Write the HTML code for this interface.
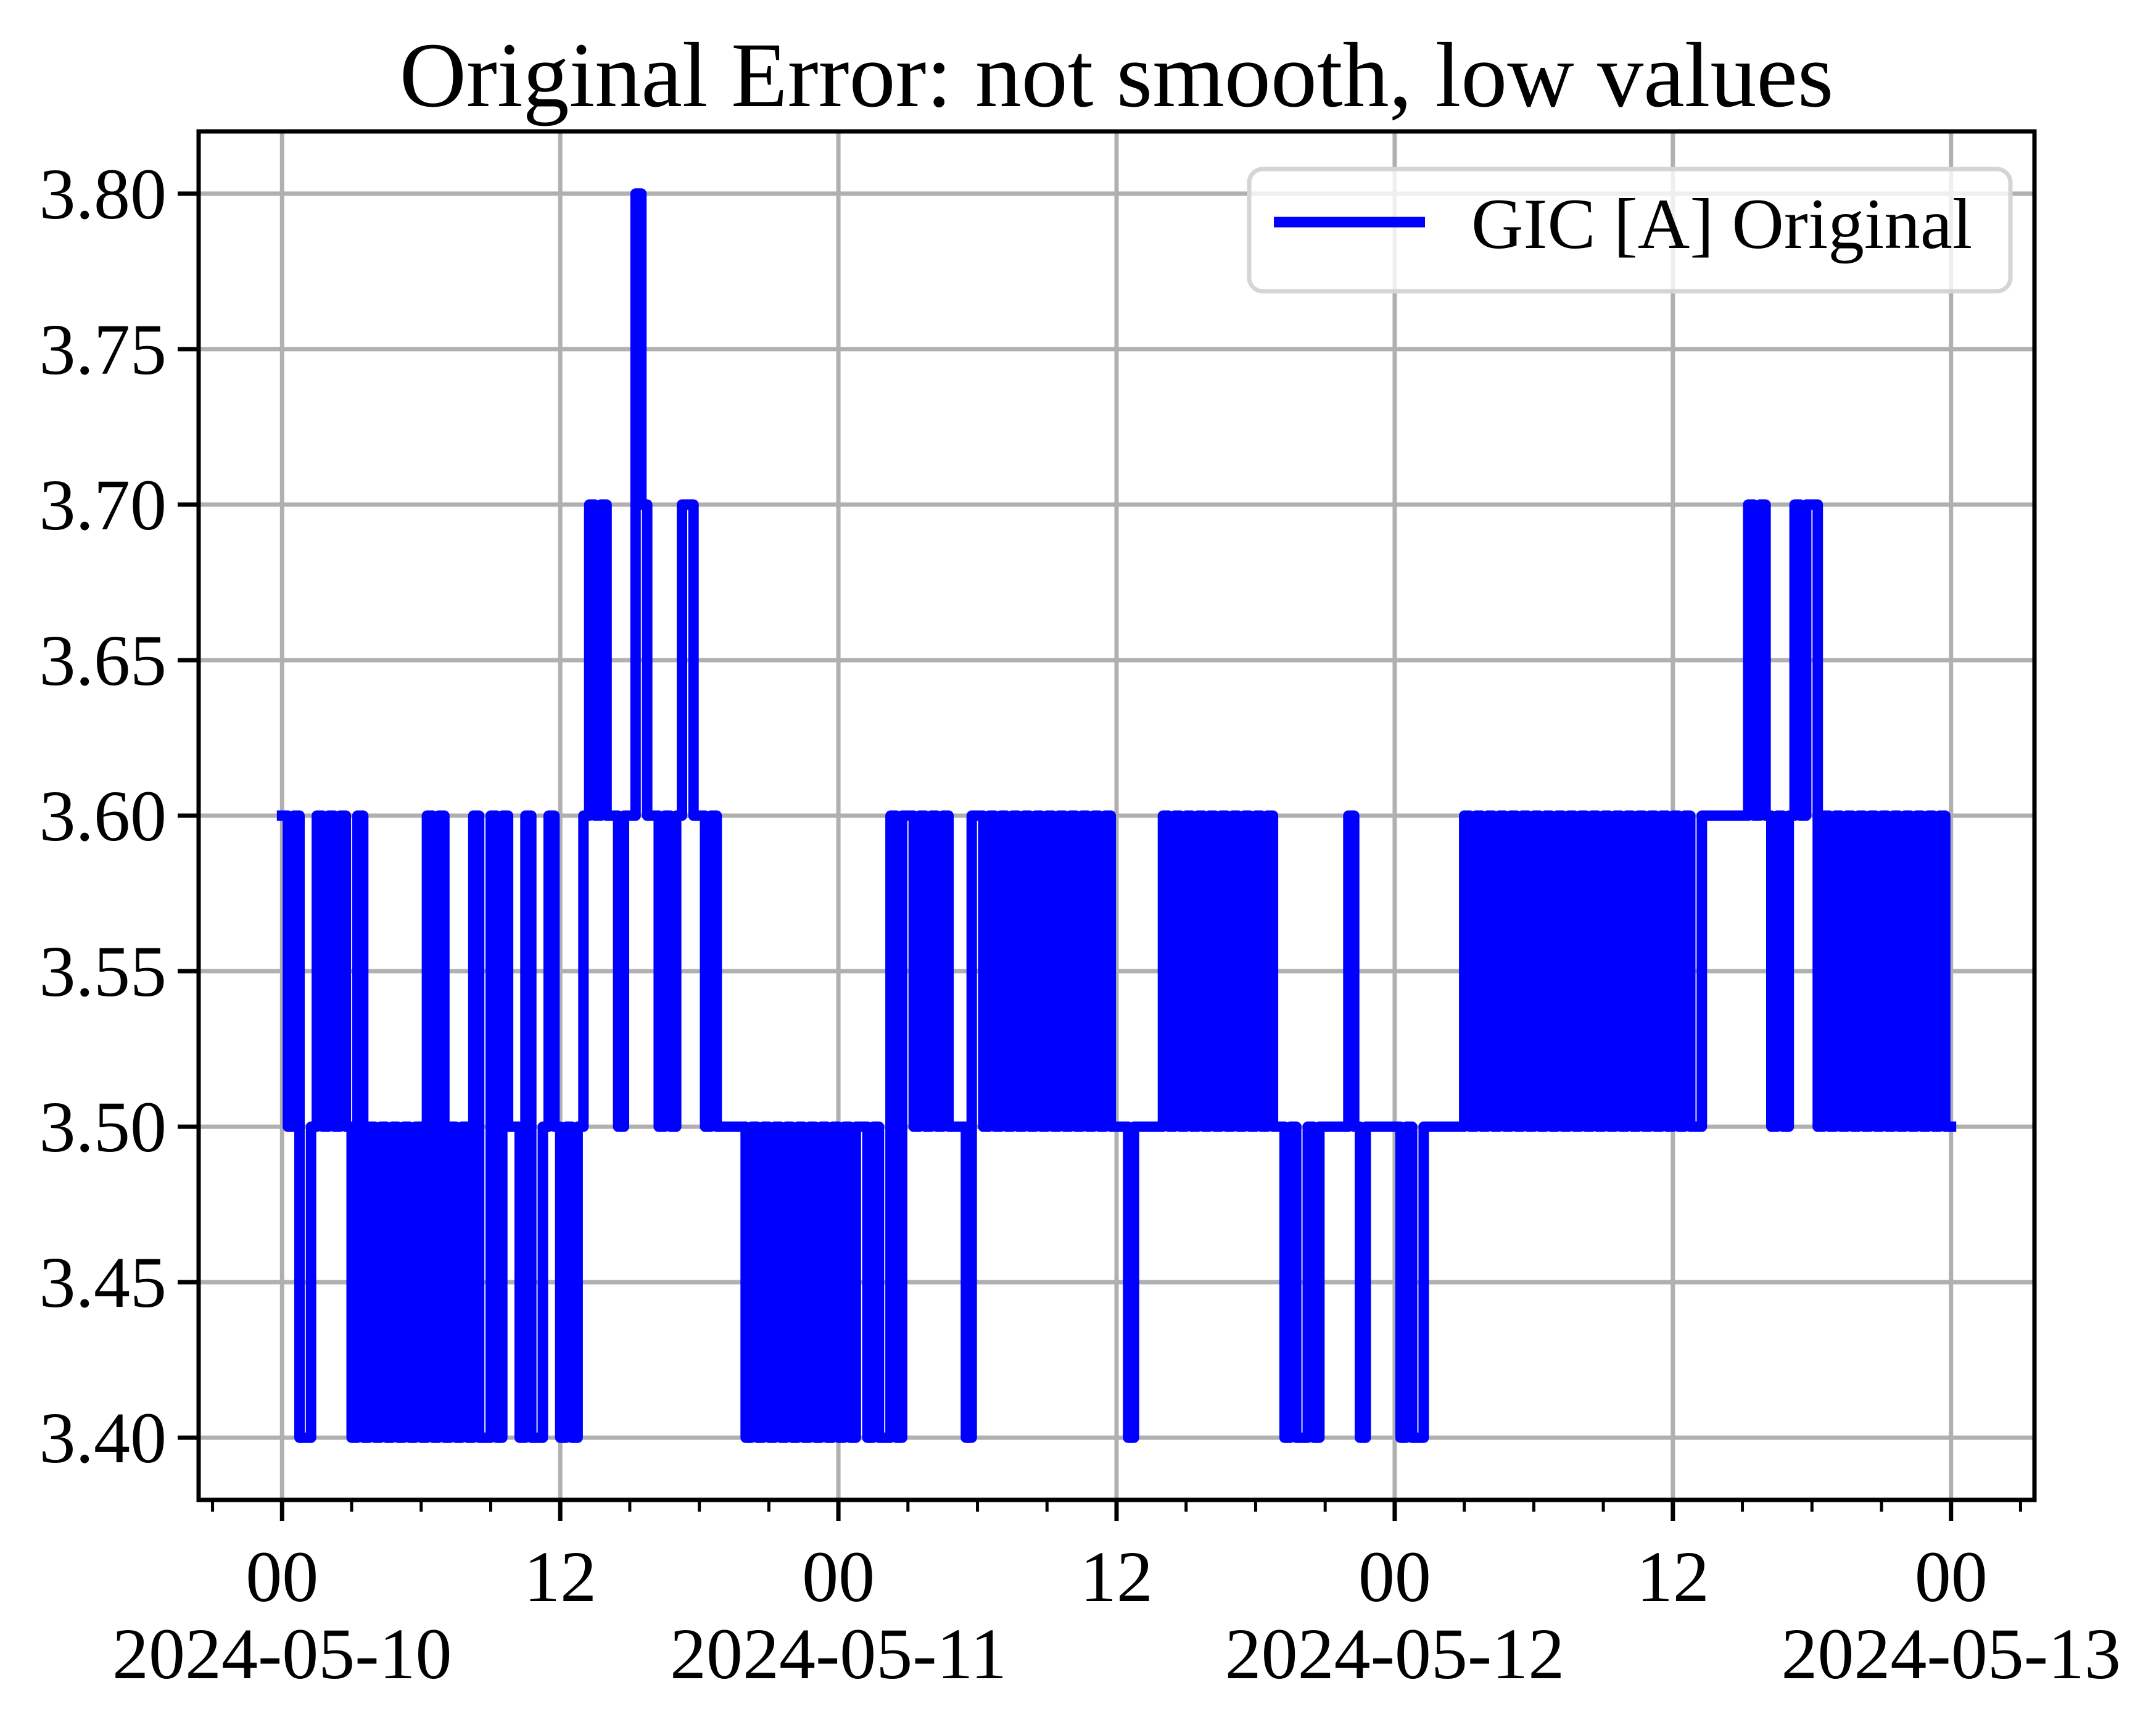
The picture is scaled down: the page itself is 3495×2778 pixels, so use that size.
<!DOCTYPE html>
<html><head><meta charset="utf-8"><style>
html,body{margin:0;padding:0;background:#fff;}
svg{display:block;font-family:"Liberation Serif","DejaVu Serif",serif;}
</style></head><body>
<svg id="chart" width="3495" height="2778" viewBox="0 0 3495 2778" xmlns="http://www.w3.org/2000/svg">
<rect x="0" y="0" width="3495" height="2778" fill="#fff"/>
<text x="1810" y="172" font-size="150" text-anchor="middle">Original Error: not smooth, low values</text>
<g id="grid"></g>
<g id="series"></g>
<g id="axes"></g>
<g id="legend">
<rect x="2025" y="274" width="1234" height="198" rx="22" fill="#fff" fill-opacity="0.8" stroke="#d5d5d5" stroke-width="7"/>
<line x1="2065" y1="360" x2="2310" y2="360" stroke="#0000ff" stroke-width="17"/>
<text x="2385" y="402" font-size="117">GIC [A] Original</text>
</g>
</svg>
<script>
// y-axis data
const yTicks = [3.40, 3.45, 3.50, 3.55, 3.60, 3.65, 3.70, 3.75, 3.80];
const yTickLabels = ["3.40","3.45","3.50","3.55","3.60","3.65","3.70","3.75","3.80"];
// x-axis data (hours since 2024-05-10 00:00)
const xMajorTicks = [0, 12, 24, 36, 48, 60, 72];
const xMajorLabels = ["00","12","00","12","00","12","00"];
const xDateLabels = ["2024-05-10","","2024-05-11","","2024-05-12","","2024-05-13"];
// series: value levels and per-hour codes (4 samples per hour, 15 min each)
const levels = [3.40, 3.50, 3.60, 3.70, 3.80];
const hourCodes = [
"2120","0121","2121","0201","0101","0101","0202","0101","0200","2021","1020","0121",
"0101","2323","2212","2432","2121","2332","2121","1111","0101","0101","0101","0101",
"0101","1010","0202","2121","2121","1102","2121","2121","2121","2121","2121","2121",
"1101","1111","2121","2121","2121","2121","2121","1010","0101","1111","2101","1111",
"1010","0111","1111","2121","2121","2121","2121","2121","2121","2121","2121","2121",
"2121","1222","2222","2323","2121","2323","3121","2121","2121","2121","2121","2121"
];
const finalValue = 3.50;

const L=322,R=3298,T=213,B=2431;
const xMin=-3.6,xMax=75.6,yMin=3.38,yMax=3.82;
const xs=h=>L+(h-xMin)/(xMax-xMin)*(R-L);
const ys=v=>B-(v-yMin)/(yMax-yMin)*(B-T);
const NS="http://www.w3.org/2000/svg";
function mk(tag,attrs,parent){const e=document.createElementNS(NS,tag);for(const k in attrs)e.setAttribute(k,attrs[k]);parent.appendChild(e);return e;}
const grid=document.getElementById('grid'),axes=document.getElementById('axes'),series=document.getElementById('series');

yTicks.forEach((v,i)=>{
  const g=mk('line',{x1:L,x2:R,y1:ys(v),y2:ys(v),stroke:'#b0b0b0','stroke-width':7},grid);
  
  
  const t=mk('line',{x1:L-34,x2:L,y1:ys(v),y2:ys(v),stroke:'#000','stroke-width':7},axes);
  
  
  const tx=mk('text',{x:L-52,y:ys(v)+40,'font-size':118,'text-anchor':'end'},axes);
  tx.textContent=yTickLabels[i];
  
  
});
xMajorTicks.forEach((h,i)=>{
  const g=mk('line',{x1:xs(h),x2:xs(h),y1:T,y2:B,stroke:'#b0b0b0','stroke-width':7},grid);
  
  
  const t=mk('line',{x1:xs(h),x2:xs(h),y1:B,y2:B+34,stroke:'#000','stroke-width':7},axes);
  
  
  const a=mk('text',{x:xs(h),y:2595,'font-size':118,'text-anchor':'middle'},axes);
  a.textContent=xMajorLabels[i];
  
  
  if(xDateLabels[i]){
    const d=mk('text',{x:xs(h),y:2720,'font-size':118,'text-anchor':'middle'},axes);
    d.textContent=xDateLabels[i];
    
    
  }
});
for(let h=-3;h<=75;h+=3){
  if(h%12===0)continue;
  const m=mk('line',{x1:xs(h),x2:xs(h),y1:B,y2:B+19,stroke:'#000','stroke-width':5},axes);
  
  
}
const frame=mk('rect',{x:L,y:T,width:R-L,height:B-T,fill:'none',stroke:'#000','stroke-width':7},axes);



// series path
const vals=[];
hourCodes.forEach(s=>{for(const c of s)vals.push(levels[+c]);});
let d='';
vals.forEach((v,i)=>{
  const t0=i*0.25,t1=(i+1)*0.25;
  d+=(i===0?'M':'L')+xs(t0).toFixed(1)+' '+ys(v).toFixed(1)+'L'+xs(t1).toFixed(1)+' '+ys(v).toFixed(1);
});
d+='L'+xs(72).toFixed(1)+' '+ys(finalValue).toFixed(1);
const p=mk('path',{d:d,fill:'none',stroke:'#0000ff','stroke-width':17,'stroke-linejoin':'round','stroke-linecap':'square'},series);


</script>
</body></html>
